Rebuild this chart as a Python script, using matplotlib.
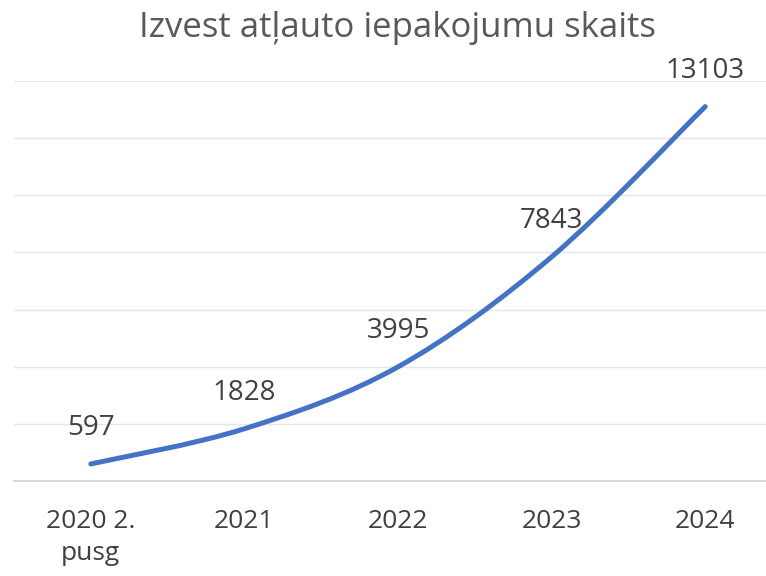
import matplotlib

matplotlib.use("Agg")
import matplotlib.pyplot as plt
import numpy as np
from matplotlib.path import Path
from matplotlib.patches import PathPatch

categories = ["2020 2.\npusg", "2021", "2022", "2023", "2024"]
values = [597, 1828, 3995, 7843, 13103]
title = "Izvest atļauto iepakojumu skaits"

LINE = "#4472C4"
GRID = "#E6E6E6"
AXIS = "#D9D9D9"
LABEL = "#404040"
TITLE = "#595959"

plt.rcParams["font.family"] = ["Open Sans", "DejaVu Sans"]

fig = plt.figure(figsize=(7.66, 5.76), dpi=100)
# axes run past the right edge like the original
ax = fig.add_axes([14 / 766, 1 - 481 / 576, 768 / 766, 400 / 576])

x = np.arange(len(values), dtype=float)
y = np.array(values, dtype=float)

# Excel-style smoothed line: cubic Bezier through points (Catmull-Rom tangents)
verts = [(x[0], y[0])]
codes = [Path.MOVETO]
n = len(x)
for i in range(n - 1):
    p0 = np.array([x[max(i - 1, 0)], y[max(i - 1, 0)]])
    p1 = np.array([x[i], y[i]])
    p2 = np.array([x[i + 1], y[i + 1]])
    p3 = np.array([x[min(i + 2, n - 1)], y[min(i + 2, n - 1)]])
    c1 = p1 + (p2 - p0) / 6
    c2 = p2 - (p3 - p1) / 6
    verts += [tuple(c1), tuple(c2), tuple(p2)]
    codes += [Path.CURVE4] * 3
ax.add_patch(PathPatch(Path(verts, codes), fill=False, edgecolor=LINE,
                       lw=3.6, capstyle="round", joinstyle="round", zorder=3))

for xi, v in zip(x, values):
    ax.annotate(str(v), xy=(xi, v), xytext=(0, 26), textcoords="offset points",
                ha="center", va="center", fontsize=20, color=LABEL)

ax.set_xlim(-0.5, 4.5)
ax.set_ylim(0, 14000)
ax.set_yticks(np.arange(0, 14001, 2000))
ax.set_yticklabels([])
ax.tick_params(axis="y", length=0)
ax.grid(axis="y", color=GRID, lw=1.0)
ax.set_axisbelow(True)
for s in ("top", "right", "left"):
    ax.spines[s].set_visible(False)
ax.spines["bottom"].set_color(AXIS)
ax.spines["bottom"].set_linewidth(1.5)

ax.set_xticks(x)
ax.set_xticklabels(categories, fontsize=19, color=LABEL, linespacing=1.4)
ax.tick_params(axis="x", length=0, pad=20)

fig.text(397 / 766, 1 - 37 / 576, title, ha="center", va="baseline",
         fontsize=25, color=TITLE)

fig.savefig("out.png", dpi=100)
